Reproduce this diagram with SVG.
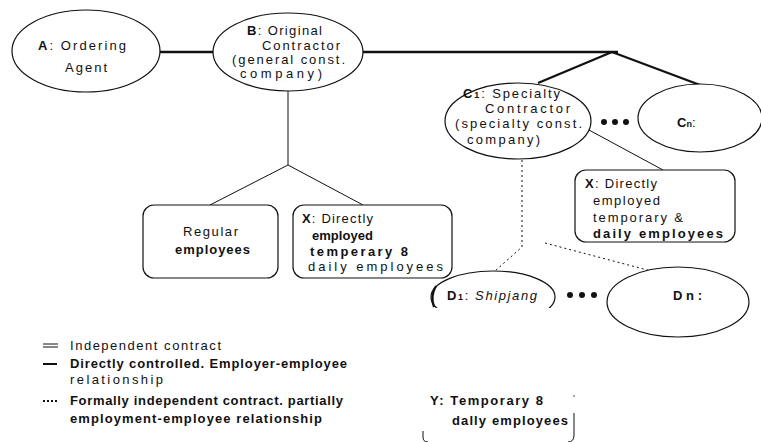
<svg xmlns="http://www.w3.org/2000/svg" width="761" height="442" viewBox="0 0 761 442">
<style>
text{font-family:"Liberation Sans",Arial,sans-serif;fill:#111}
.n{font-size:13px}
.lg{font-size:13px}
.b{font-weight:bold}
.i{font-style:italic}
.sub{font-size:9px}
.shape{fill:#fff;stroke:#111;stroke-width:1.2}
.thick{stroke:#111;stroke-width:2.4;fill:none}
.thin{stroke:#111;stroke-width:1;fill:none}
.dot{stroke:#111;stroke-width:1;fill:none;stroke-dasharray:2 3}
.dots{fill:#111}
</style>
<defs>
<clipPath id="d1clip"><rect x="400" y="260" width="170" height="48"/></clipPath>
</defs>
<rect width="761" height="442" fill="#fff"/>
<g id="connectors">
<line class="thick" x1="160" y1="52" x2="214" y2="52"/>
<line class="thick" x1="362" y1="52" x2="618" y2="52"/>
<line class="thick" x1="612" y1="52" x2="538" y2="83"/>
<line class="thick" x1="612" y1="52" x2="700" y2="85"/>
<polyline class="thin" points="288,91 288,165 210,205"/>
<line class="thin" x1="288" y1="165" x2="363" y2="205"/>
<line class="thin" x1="589" y1="130" x2="663" y2="170"/>
<polyline class="dot" points="522,160 522,247 495,271"/>
<line class="dot" x1="545" y1="243" x2="655" y2="272"/>
</g>
<g id="nodeA">
<ellipse class="shape" cx="86" cy="51" rx="74" ry="41"/>
<text class="n" x="38" y="50" textLength="88" lengthAdjust="spacing"><tspan class="b">A</tspan>: Ordering</text>
<text class="n" x="65" y="72" textLength="42" lengthAdjust="spacing">Agent</text>
</g>
<g id="nodeB">
<ellipse class="shape" cx="288" cy="52" rx="75" ry="39"/>
<text class="n" x="247" y="35" textLength="75" lengthAdjust="spacing"><tspan class="b">B</tspan>: Original</text>
<text class="n" x="262" y="50" textLength="78" lengthAdjust="spacing">Contractor</text>
<text class="n" x="232" y="64" textLength="113" lengthAdjust="spacing">(general const.</text>
<text class="n" x="240" y="78" textLength="82" lengthAdjust="spacing">company)</text>
</g>
<g id="nodeC1">
<ellipse class="shape" cx="518" cy="121" rx="73" ry="38"/>
<text class="n" x="463" y="98" textLength="97" lengthAdjust="spacing"><tspan class="b">C</tspan><tspan class="b sub">1</tspan>: Specialty</text>
<text class="n" x="485" y="113" textLength="85" lengthAdjust="spacing">Contractor</text>
<text class="n" x="455" y="128" textLength="127" lengthAdjust="spacing">(specialty const.</text>
<text class="n" x="467" y="144" textLength="73" lengthAdjust="spacing">company)</text>
</g>
<g id="dotsC">
<circle class="dots" cx="604" cy="122" r="3"/>
<circle class="dots" cx="615" cy="122" r="3"/>
<circle class="dots" cx="626" cy="122" r="3"/>
</g>
<g id="nodeCn">
<ellipse class="shape" cx="700" cy="118" rx="62" ry="34"/>
<text class="n" x="677" y="127"><tspan class="b">C</tspan><tspan class="b sub">n</tspan>:</text>
</g>
<g id="nodeRegular">
<rect class="shape" x="143" y="205" width="135" height="73" rx="11"/>
<text class="n" x="183" y="236" textLength="55" lengthAdjust="spacing">Regular</text>
<text class="n b" x="175" y="254" textLength="75" lengthAdjust="spacing">employees</text>
</g>
<g id="nodeX1">
<rect class="shape" x="293" y="205" width="159" height="73" rx="11"/>
<text class="n" x="302" y="223" textLength="71" lengthAdjust="spacing"><tspan class="b">X</tspan>: Directly</text>
<text class="n b" x="312" y="240" textLength="61" lengthAdjust="spacing">employed</text>
<text class="n b" x="310" y="256" textLength="98" lengthAdjust="spacing">temperary 8</text>
<text class="n" x="308" y="271" textLength="135" lengthAdjust="spacing">daily employees</text>
</g>
<g id="nodeX2">
<rect class="shape" x="575" y="170" width="160" height="72" rx="11"/>
<text class="n" x="585" y="188" textLength="72" lengthAdjust="spacing"><tspan class="b">X</tspan>: Directly</text>
<text class="n" x="593" y="205" textLength="67" lengthAdjust="spacing">employed</text>
<text class="n" x="593" y="222" textLength="90" lengthAdjust="spacing">temporary &amp;</text>
<text class="n b" x="593" y="238" textLength="130" lengthAdjust="spacing">daily employees</text>
</g>
<g id="nodeD1">
<ellipse class="shape" cx="493" cy="297" rx="62" ry="26" clip-path="url(#d1clip)"/>
<path d="M436 286 Q430 296 434 307" stroke="#111" stroke-width="2.2" fill="none"/>
<text class="n" x="447" y="300" textLength="90" lengthAdjust="spacing"><tspan class="b">D</tspan><tspan class="b sub">1</tspan>: <tspan class="i">Shipjang</tspan></text>
</g>
<g id="dotsD">
<circle class="dots" cx="570" cy="295" r="3"/>
<circle class="dots" cx="582" cy="295" r="3"/>
<circle class="dots" cx="594" cy="295" r="3"/>
</g>
<g id="nodeDn">
<ellipse class="shape" cx="678" cy="302" rx="71" ry="35"/>
<text class="n b" x="673" y="300" textLength="29" lengthAdjust="spacing">Dn:</text>
</g>
<g id="nodeY">
<path d="M423 431 L423 437 Q423 442 428 442" class="thin"/>
<path d="M574 413 L574 435 Q574 442 568 442" class="thin"/>
<circle cx="574" cy="396" r="0.7" fill="#111"/>
<text class="n b" x="430" y="405" textLength="113" lengthAdjust="spacing">Y: Temporary 8</text>
<text class="n b" x="452" y="425" textLength="116" lengthAdjust="spacing">dally employees</text>
</g>
<g id="legend">
<line x1="43" y1="344" x2="58" y2="344" stroke="#111" stroke-width="1"/>
<line x1="43" y1="347" x2="58" y2="347" stroke="#111" stroke-width="1"/>
<line x1="43" y1="364" x2="57" y2="364" stroke="#111" stroke-width="2"/>
<line x1="43" y1="401" x2="57" y2="401" stroke="#111" stroke-width="2" stroke-dasharray="2 2"/>
<text class="lg" x="70" y="350" textLength="151" lengthAdjust="spacing">Independent contract</text>
<text class="lg b" x="70" y="368" textLength="277" lengthAdjust="spacing">Directly  controlled. Employer-employee</text>
<text class="lg" x="70" y="384" textLength="93" lengthAdjust="spacing">relationship</text>
<text class="lg b" x="70" y="405" textLength="273" lengthAdjust="spacing">Formally independent contract. partially</text>
<text class="lg b" x="70" y="423" textLength="252" lengthAdjust="spacing">employment-employee  relationship</text>
</g>
</svg>
